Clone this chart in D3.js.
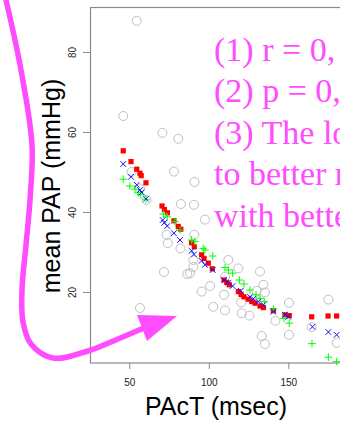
<!DOCTYPE html>
<html>
<head>
<meta charset="utf-8">
<script src="https://cdn.jsdelivr.net/npm/d3@7"></script>
<style>
  html, body { margin: 0; padding: 0; background: #fff; }
  svg { display: block; }
</style>
</head>
<body>
<div id="chart"></div>
<script>
// PAcT vs mean PAP: raw measurements (open circles) and three fitted series

const xTicks = [50, 100, 150]
const yTicks = [20, 40, 60, 80]

// raw measurements [PAcT, mean PAP]
const rawPoints = [
  [54.7, 87.8], [46.2, 64.0], [70.8, 59.8], [80.8, 58.3], [78.1, 50.1],
  [91.0, 47.5], [51.4, 50.0], [56.7, 45.9], [60.8, 43.0], [82.5, 42.0],
  [90.7, 41.8], [97.6, 38.1], [90.9, 34.3], [73.5, 34.3], [74.2, 32.2],
  [82.2, 30.9], [90.3, 28.0], [90.3, 26.3], [88.2, 24.7], [71.8, 25.0],
  [112.3, 28.0], [118.6, 25.9], [132.2, 25.1], [134.3, 21.8], [135.3, 19.9],
  [130.1, 20.3], [110.2, 23.8], [109.6, 19.3], [95.5, 20.1], [100.8, 21.5],
  [102.8, 16.3], [110.2, 15.4], [120.3, 17.4], [120.7, 14.7], [125.6, 14.1],
  [133.3, 9.0], [135.3, 7.0], [141.9, 12.8], [150.4, 17.3], [150.4, 9.3],
  [164.7, 11.2], [175.2, 18.1], [180.4, 7.3], [56.7, 16.0], [86.5, 24.5]
]

// fitted series (1): red squares
const redPoints = [
  [46.2, 55.3], [51.1, 52.6], [54.7, 50.7], [56.7, 49.7], [57.5, 49.1],
  [60.5, 47.3], [70.6, 41.5], [72.1, 40.6], [74.0, 39.8], [78.1, 37.8],
  [80.8, 36.4], [82.4, 35.7], [89.2, 32.3], [90.9, 31.3], [95.5, 29.3],
  [97.0, 28.4], [99.7, 27.2], [102.2, 25.8], [109.6, 23.0], [111.3, 22.4],
  [112.9, 21.8], [118.6, 20.1], [120.3, 19.4], [122.1, 18.8], [124.8, 18.2],
  [127.0, 17.6], [129.1, 17.2], [132.2, 16.5], [134.3, 16.1], [140.6, 15.3],
  [147.9, 14.3], [150.6, 14.1], [164.7, 13.8], [175.0, 14.0], [180.4, 14.0]
]

// fitted series (2): blue crosses
const bluePoints = [
  [46.2, 52.0], [51.1, 48.8], [54.7, 46.8], [56.7, 45.5], [57.8, 44.9],
  [60.5, 43.3], [71.0, 38.0], [72.0, 37.3], [73.9, 36.5], [78.1, 34.7],
  [81.9, 33.0], [89.2, 30.3], [90.7, 29.4], [95.5, 27.8], [97.6, 26.8],
  [102.5, 25.5], [109.6, 23.0], [112.3, 22.3], [115.0, 21.5], [120.1, 20.3],
  [125.9, 18.8], [128.0, 18.3], [131.1, 17.6], [134.3, 16.8], [140.6, 15.1],
  [147.9, 14.3], [150.0, 13.8], [165.2, 11.3], [175.2, 10.0], [180.4, 9.3]
]

// fitted series (3): green plus signs
const greenPoints = [
  [46.2, 48.2], [50.4, 46.5], [53.6, 45.7], [55.7, 44.8], [57.2, 44.3],
  [60.5, 43.2], [71.4, 39.5], [73.9, 38.8], [78.7, 37.6], [81.9, 35.5],
  [89.2, 33.0], [91.3, 32.6], [96.5, 30.9], [97.6, 30.5], [102.5, 29.0],
  [110.2, 26.1], [112.3, 25.5], [115.0, 24.7], [119.2, 23.0], [122.1, 22.0],
  [125.9, 20.5], [129.7, 19.3], [132.2, 18.4], [134.9, 17.6], [140.6, 15.7],
  [147.3, 13.4], [150.6, 12.2], [164.9, 7.1], [175.2, 3.7], [180.4, 2.6]
]

// note text, as far as it shows inside the crop
const noteLines = [
  '(1) r = 0,',
  '(2) p = 0,',
  '(3) The lo',
  'to better r',
  'with bette'
]

// hand-drawn annotation arrow (pixel space)
const arrowPath = [
  [6, 0], [21, 70], [32, 145], [30, 200], [26, 245], [22, 290],
  [23, 322], [31, 344], [53, 358], [88, 351], [118, 339], [146, 327]
]
const arrowHead = [[137, 315], [177, 316], [147, 341]]

const W = 340
const H = 424
const pink = '#ff4cff'
const frameColor = '#8a8a8a'

const svg = d3.select('#chart')
  .append('svg')
  .attr('width', W)
  .attr('height', H)

const x = d3.scaleLinear().domain([25.3, 200]).range([90, 367.8])
const y = d3.scaleLinear().domain([2.25, 91.25]).range([363, 7])

// plot frame (runs past the right edge of the crop)
svg.append('rect')
  .attr('x', 90.5)
  .attr('y', 7.5)
  .attr('width', 300)
  .attr('height', 355.5)
  .attr('fill', 'none')
  .attr('stroke', frameColor)
  .attr('stroke-width', 1.2)

// axes
const xAxis = svg.append('g')
  .attr('transform', 'translate(0,363)')
  .call(d3.axisBottom(x).tickValues(xTicks).tickSize(6))
xAxis.select('.domain').remove()
xAxis.selectAll('line').attr('stroke', frameColor)
xAxis.selectAll('text')
  .attr('y', 23)
  .attr('dy', null)
  .attr('fill', '#222')
  .style('font-family', 'Liberation Sans, Arial, sans-serif')
  .style('font-size', '10px')

const yAxis = svg.append('g')
  .attr('transform', 'translate(90,0)')
  .call(d3.axisLeft(y).tickValues(yTicks).tickSize(7))
yAxis.select('.domain').remove()
yAxis.selectAll('line').attr('stroke', frameColor)
yAxis.selectAll('text')
  .attr('x', 0)
  .attr('dy', null)
  .attr('text-anchor', 'middle')
  .attr('transform', 'translate(-14,0) rotate(-90)')
  .attr('fill', '#222')
  .style('font-family', 'Liberation Sans, Arial, sans-serif')
  .style('font-size', '10px')

// axis titles
svg.append('text')
  .attr('x', 216)
  .attr('y', 415)
  .attr('text-anchor', 'middle')
  .style('font-family', 'Liberation Sans, Arial, sans-serif')
  .style('font-size', '25px')
  .text('PAcT (msec)')

svg.append('text')
  .attr('transform', 'translate(60,186) rotate(-90)')
  .attr('text-anchor', 'middle')
  .style('font-family', 'Liberation Sans, Arial, sans-serif')
  .style('font-size', '25px')
  .text('mean PAP (mmHg)')

// raw data
svg.append('g').selectAll('circle')
  .data(rawPoints)
  .join('circle')
  .attr('cx', d => x(d[0]))
  .attr('cy', d => y(d[1]))
  .attr('r', 4.5)
  .attr('fill', 'none')
  .attr('stroke', '#b8b8b8')
  .attr('stroke-width', 0.9)

// red squares
svg.append('g').selectAll('rect')
  .data(redPoints)
  .join('rect')
  .attr('x', d => x(d[0]) - 2.6)
  .attr('y', d => y(d[1]) - 2.6)
  .attr('width', 5.2)
  .attr('height', 5.2)
  .attr('fill', '#ff0000')

// green plus
svg.append('g').selectAll('path')
  .data(greenPoints)
  .join('path')
  .attr('d', d => {
    const cx = x(d[0]), cy = y(d[1]), s = 3.8
    return `M${cx - s},${cy}H${cx + s}M${cx},${cy - s}V${cy + s}`
  })
  .attr('stroke', '#00ff00')
  .attr('stroke-width', 1)
  .attr('fill', 'none')

// blue crosses
svg.append('g').selectAll('path')
  .data(bluePoints)
  .join('path')
  .attr('d', d => {
    const cx = x(d[0]), cy = y(d[1]), s = 2.8
    return `M${cx - s},${cy - s}L${cx + s},${cy + s}M${cx - s},${cy + s}L${cx + s},${cy - s}`
  })
  .attr('stroke', '#1010ff')
  .attr('stroke-width', 1)
  .attr('fill', 'none')

// magenta note
svg.append('g').selectAll('text')
  .data(noteLines)
  .join('text')
  .attr('x', 214)
  .attr('y', (d, i) => 61 + i * 41.4)
  .attr('fill', pink)
  .style('font-family', 'Liberation Serif, Times New Roman, serif')
  .style('font-size', '34px')
  .text(d => d)

// annotation arrow
svg.append('path')
  .attr('d', d3.line().curve(d3.curveCatmullRom)(arrowPath))
  .attr('fill', 'none')
  .attr('stroke', pink)
  .attr('stroke-width', 5.5)
  .attr('stroke-linecap', 'round')

svg.append('path')
  .attr('d', d3.line()(arrowHead) + 'Z')
  .attr('fill', pink)
</script>
</body>
</html>
